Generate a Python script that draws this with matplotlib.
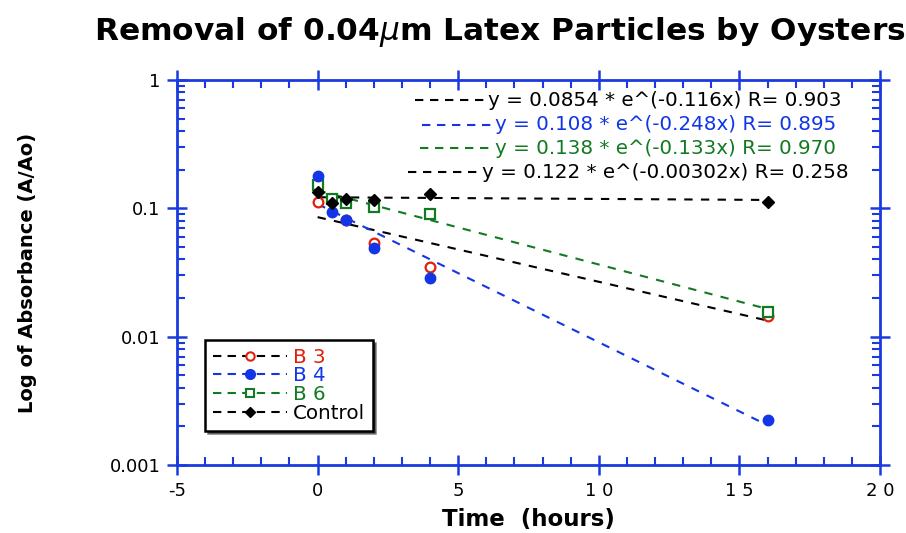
import numpy as np
import matplotlib
matplotlib.use('Agg')
import matplotlib.pyplot as plt
from matplotlib.lines import Line2D
from matplotlib.ticker import LogLocator, FixedFormatter, FixedLocator, MultipleLocator

plt.rcParams['font.family'] = ['DejaVu Sans']

#data
t_b3 = [0, 1, 2, 4, 16]
y_b3 = [0.112, 0.081, 0.0533, 0.0348, 0.0146]
t_b4 = [0, 0.5, 1, 2, 4, 16]
y_b4 = [0.178, 0.0935, 0.0806, 0.0493, 0.0288, 0.00223]
t_b6 = [0, 0.5, 1, 2, 4, 16]
y_b6 = [0.151, 0.119, 0.110, 0.102, 0.0908, 0.0157]
t_ctl = [0, 0.5, 1, 2, 4, 16]
y_ctl = [0.133, 0.111, 0.119, 0.117, 0.130, 0.113]

#exponential fits as printed on the chart: y = a*e^(b x)
fit_a = [0.0854, 0.108, 0.138, 0.122]
fit_b = [-0.116, -0.248, -0.133, -0.00302]
fit_txt = ['y = 0.0854 * e^(-0.116x) R= 0.903',
           'y = 0.108 * e^(-0.248x) R= 0.895',
           'y = 0.138 * e^(-0.133x) R= 0.970',
           'y = 0.122 * e^(-0.00302x) R= 0.258']

names = ['B 3', 'B 4', 'B 6', 'Control']
xticks = [-5, 0, 5, 10, 15, 20]
xlabels = ['-5', '0', '5', '1 0', '1 5', '2 0']
yticks = [0.001, 0.01, 0.1, 1]
ylabels = ['0.001', '0.01', '0.1', '1']

red = '#e0200a'
blue = '#1236e6'
green = '#137a23'
axblue = '#1a3ae0'

fig = plt.figure(figsize=(9.06, 5.33), dpi=100)
ax = fig.add_axes([177/906, 1-465/533, 703/906, 385/533])

#fit lines
tt = np.linspace(0, 16, 60)
fit_cols = ['black', blue, green, 'black']
for a, b, c in zip(fit_a, fit_b, fit_cols):
    ax.plot(tt, a*np.exp(b*tt), ls=(0, (4, 4)), color=c, lw=1.5, zorder=2)

ms = 7
ax.plot(t_b3, y_b3, 'o', ms=ms, mfc='white', mec=red, mew=1.6, zorder=3)
ax.plot(t_b4, y_b4, 'o', ms=ms+0.5, mfc=blue, mec=blue, zorder=4)
ax.plot(t_b6, y_b6, 's', ms=ms, mfc='white', mec=green, mew=1.6, zorder=3)
ax.plot(t_ctl, y_ctl, 'D', ms=ms-1, mfc='black', mec='black', zorder=5)

ax.set_yscale('log')
ax.set_xlim(-5, 20)
ax.set_ylim(0.001, 1)

ax.xaxis.set_major_locator(FixedLocator(xticks))
ax.xaxis.set_major_formatter(FixedFormatter(xlabels))
ax.xaxis.set_minor_locator(MultipleLocator(1))
ax.yaxis.set_major_locator(FixedLocator(yticks))
ax.yaxis.set_major_formatter(FixedFormatter(ylabels))
ax.yaxis.set_minor_locator(LogLocator(base=10, subs=np.arange(2, 10)))
ax.yaxis.set_minor_formatter(plt.NullFormatter())

for s in ax.spines.values():
    s.set_color(axblue)
    s.set_linewidth(2)
ax.tick_params(which='major', direction='inout', length=14, width=1.8, color=axblue,
               top=True, right=True, labelsize=13, pad=5)
ax.tick_params(which='minor', direction='in', length=6, width=1.5, color=axblue,
               top=True, right=True)

ax.set_xlabel('Time  (hours)', fontsize=16.5, fontweight='bold', labelpad=6)
ax.set_ylabel('Log of Absorbance (A/Ao)', fontsize=14, fontweight='bold', labelpad=52)
fig.text(0.552, 0.94, r'Removal of 0.04$\mu$m Latex Particles by Oysters',
         fontsize=22.5, fontweight='bold', ha='center', va='center')

#fit equation lines in the upper right
eq_cols = ['black', blue, green, 'black']
eq_y = [100, 125, 148, 172]
eq_x0 = [415, 422, 420, 408]
eq_x1 = [486, 493, 493, 480]
for txt, c, py, x0, x1 in zip(fit_txt, eq_cols, eq_y, eq_x0, eq_x1):
    fy = 1 - py/533
    fig.add_artist(Line2D([x0/906, x1/906], [fy, fy], ls=(0, (4, 3.2)), color=c, lw=1.5))
    fig.text((x1+2)/906, fy, txt, color=c, fontsize=14.3, ha='left', va='center')

#legend
handles = [
    Line2D([], [], ls=(0, (4, 3)), color='black', marker='o', ms=6, mfc='white', mec=red, mew=1.5),
    Line2D([], [], ls=(0, (4, 3)), color=blue, marker='o', ms=7, mfc=blue, mec=blue),
    Line2D([], [], ls=(0, (4, 3)), color=green, marker='s', ms=6, mfc='white', mec=green, mew=1.5),
    Line2D([], [], ls=(0, (4, 3)), color='black', marker='D', ms=5, mfc='black', mec='black'),
]
leg = ax.legend(handles, names, loc='upper left', bbox_to_anchor=(0.04, 0.325),
                borderaxespad=0,
                fontsize=14.3, frameon=True, fancybox=False, shadow={'color': 'black'},
                handlelength=3.7, handletextpad=0.3, labelspacing=-0.02, borderpad=0.4,
                numpoints=1)
leg.get_frame().set_edgecolor('black')
leg.get_frame().set_linewidth(1.8)
for t, c in zip(leg.get_texts(), [red, blue, green, 'black']):
    t.set_color(c)

fig.savefig('out.png', dpi=100)
